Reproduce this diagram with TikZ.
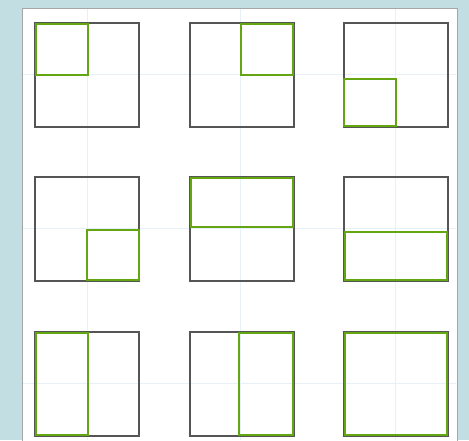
\documentclass[tikz,border=0pt]{standalone}
\usepackage{tikz}
\definecolor{bgblue}{HTML}{C3DEE3}
\definecolor{gridblue}{HTML}{E6F0F9}
\definecolor{sqgray}{HTML}{555555}
\definecolor{leafgreen}{HTML}{64A612}
\tikzset{
  panel/.style={fill=white,draw=gray!70,line width=0.9pt},
  gridline/.style={draw=gridblue,line width=1pt},
  outer/.style={draw=sqgray,line width=2.2pt},
  part/.style={draw=leafgreen,line width=2.8pt},
}
\begin{document}
\begin{tikzpicture}[x=1pt,y=-1pt]
\useasboundingbox (0,0) rectangle (469,440);
\fill[bgblue] (0,0) rectangle (469,440);
\draw[panel] (22,8) rectangle (457,445);
% faint grid
\foreach \gx in {87,240,395} \draw[gridline] (\gx,9) -- (\gx,440);
\foreach \gy in {74,228,383} \draw[gridline] (23,\gy) -- (456,\gy);
% squares: size 104
\def\s{104}
\def\h{52}
% row 1
\draw[outer] (35,23) rectangle ++(\s,\s);
\draw[part] (36,24) rectangle ++(\h,\h-1);
\draw[outer] (190,23) rectangle ++(\s,\s);
\draw[part] (241,24) rectangle ++(\h,\h-1);
\draw[outer] (344,23) rectangle ++(\s,\s);
\draw[part] (344,79) rectangle ++(\h,\h-5);
% row 2
\draw[outer] (35,177) rectangle ++(\s,\s);
\draw[part] (87,230) rectangle ++(\h,\h-2);
\draw[outer] (190,177) rectangle ++(\s,\s);
\draw[part] (191,178) rectangle ++(\s-2,\h-3);
\draw[outer] (344,177) rectangle ++(\s,\s);
\draw[part] (345,232) rectangle ++(\s-2,\h-4);
% row 3
\draw[outer] (35,332) rectangle ++(\s,\s);
\draw[part] (36,333) rectangle ++(\h,\s-2);
\draw[outer] (190,332) rectangle ++(\s,\s);
\draw[part] (239,333) rectangle ++(\h+2,\s-2);
\draw[outer] (344,332) rectangle ++(\s,\s);
\draw[part] (345,333) rectangle ++(\s-2,\s-2);
\end{tikzpicture}
\end{document}
